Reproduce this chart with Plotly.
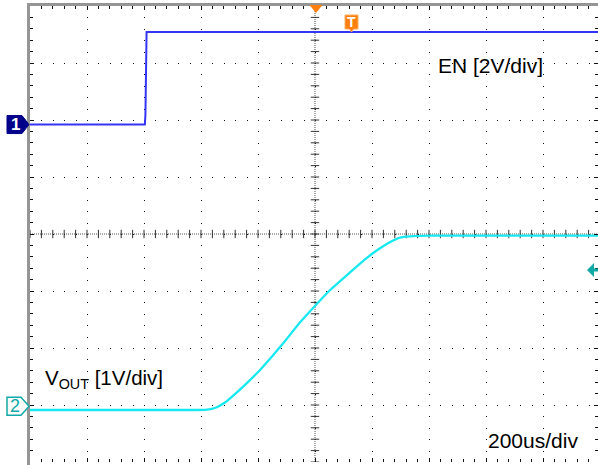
import plotly.graph_objects as go

# ---- scope settings ----
TIME_PER_DIV_US = 200.0
EN_VOLTS_PER_DIV = 2.0
VOUT_VOLTS_PER_DIV = 1.0
EN_OFFSET_DIV = 1.92      # channel 1 ground level, divisions above centre
VOUT_OFFSET_DIV = -3.02   # channel 2 ground level, divisions above centre

# ---- captured waveforms ----
en_time_us = [-1000, -597, -595, -593, -591, 993]
en_volts = [0.0, 0.0, 0.35, 3.0, 3.25, 3.25]

vout_time_us = [-1000, -420, -386, -351, -316, -281, -239, -193, -151, -105,
                -56, 3, 53, 112, 158, 204, 246, 274, 298, 333, 404, 993]
vout_volts = [-0.068, -0.068, -0.066, -0.033, 0.063, 0.212, 0.405, 0.633, 0.870, 1.142,
              1.449, 1.774, 2.037, 2.300, 2.502, 2.686, 2.826, 2.905, 2.958, 2.980, 2.990, 2.990]

# ---- screen text ----
en_label = "EN [2V/div]"
vout_label = "V<sub>OUT</sub> [1V/div]"
time_label = "200us/div"

# ---- screen geometry (pixels) ----
W, H = 598, 465
ML, MT, MB = 30, 6, 3
PW, PH = W - ML, H - MT - MB
DIV_PX = PH / 8.0
X_DIVS_VISIBLE = PW / DIV_PX

def px(x):
    return (x - ML) / PW

def py(y):
    return (H - MB - y) / PH

def ch_range(offset_div, volts_per_div):
    return [(-4 - offset_div) * volts_per_div, (4 - offset_div) * volts_per_div]

x_range = [-5 * TIME_PER_DIV_US, (-5 + X_DIVS_VISIBLE) * TIME_PER_DIV_US]

EN_COLOR = "rgb(52,52,245)"
VOUT_COLOR = "rgb(24,232,240)"
TRIG_COLOR = "#ff7f0e"
CH2_MARK = "#11a8a8"
FRAME = "#959595"

fig = go.Figure()

# centre cross tick marks
minor_t = [x_range[0] + i * TIME_PER_DIV_US / 5 for i in range(int(X_DIVS_VISIBLE * 5) + 1)]
minor_d = [-4 + i * 0.2 for i in range(41)]
fig.add_trace(go.Scatter(x=minor_t, y=[0] * len(minor_t), mode="markers",
                         marker=dict(symbol="line-ns", size=6, line=dict(width=1, color="#333")),
                         hoverinfo="skip", showlegend=False))
fig.add_trace(go.Scatter(x=[0] * len(minor_d), y=minor_d, mode="markers",
                         marker=dict(symbol="line-ew", size=6, line=dict(width=1, color="#333")),
                         hoverinfo="skip", showlegend=False))

fig.add_trace(go.Scatter(x=en_time_us, y=en_volts, yaxis="y2", mode="lines",
                         line=dict(color=EN_COLOR, width=2), showlegend=False))
fig.add_trace(go.Scatter(x=vout_time_us, y=vout_volts, yaxis="y3", mode="lines",
                         line=dict(color=VOUT_COLOR, width=2.3, shape="spline", smoothing=0.4),
                         showlegend=False))

grid_dash = "1px,%.2fpx" % (DIV_PX / 5 - 1)
common = dict(showticklabels=False, ticks="inside", ticklen=4, tickcolor="#111",
              tickwidth=1, showgrid=True, gridcolor="#111", gridwidth=1,
              griddash=grid_dash, showline=False, mirror="ticks",
              zeroline=False, fixedrange=True,
              minor=dict(ticks="inside", ticklen=3, tickcolor="#111", showgrid=False))

fig.update_layout(
    width=W, height=H,
    margin=dict(l=ML, r=W - ML - PW, t=MT, b=MB),
    paper_bgcolor="white", plot_bgcolor="white",
    xaxis=dict(range=x_range, dtick=TIME_PER_DIV_US, tick0=0, **common),
    yaxis=dict(range=[-4, 4], dtick=1, tick0=0, **common),
    yaxis2=dict(range=ch_range(EN_OFFSET_DIV, EN_VOLTS_PER_DIV), overlaying="y",
                visible=False, fixedrange=True),
    yaxis3=dict(range=ch_range(VOUT_OFFSET_DIV, VOUT_VOLTS_PER_DIV), overlaying="y",
                visible=False, fixedrange=True),
    font=dict(family="Liberation Sans, Arial, sans-serif", color="black"),
    showlegend=False,
)
fig.update_xaxes(minor=dict(dtick=TIME_PER_DIV_US / 5))
fig.update_layout(yaxis_minor_dtick=0.2)

# frame bands (left and top)
fig.add_shape(type="rect", xref="paper", yref="paper", x0=px(27), x1=px(30), y0=py(H), y1=py(3),
              fillcolor=FRAME, line=dict(width=0))
fig.add_shape(type="rect", xref="paper", yref="paper", x0=px(27), x1=px(W), y0=py(6), y1=py(3),
              fillcolor=FRAME, line=dict(width=0))

# dense centre lines
fig.add_shape(type="line", xref="x", yref="paper", x0=0, x1=0, y0=0, y1=1,
              line=dict(color="#555", width=1, dash="1px,1px"), layer="below")
fig.add_shape(type="line", xref="paper", yref="y", x0=0, x1=1, y0=0, y1=0,
              line=dict(color="#555", width=1, dash="1px,1px"), layer="below")

# channel ground markers
def ch_marker_path(ground_div, x_box_end):
    h = 9 / DIV_PX
    x0, x1, x2 = px(7), px(x_box_end), px(29)
    return (f"M{x0},{ground_div + h} L{x1},{ground_div + h} L{x2},{ground_div} "
            f"L{x1},{ground_div - h} L{x0},{ground_div - h} Z")

def badge_text(x, y, yref, text, color, size):
    fig.add_annotation(x=x, y=y, xref="paper", yref=yref, text=text, showarrow=False,
                       xanchor="center", yanchor="middle", borderpad=0,
                       font=dict(color=color, size=size))

fig.add_shape(type="path", xref="paper", yref="y", path=ch_marker_path(EN_OFFSET_DIV, 22),
              fillcolor="#00008b", line=dict(color="#00008b", width=1))
badge_text(px(15), EN_OFFSET_DIV, "y", "<b>1</b>", "white", 17)
fig.add_shape(type="path", xref="paper", yref="y", path=ch_marker_path(VOUT_OFFSET_DIV, 21),
              fillcolor="white", line=dict(color=CH2_MARK, width=1.5))
badge_text(px(14.5), VOUT_OFFSET_DIV, "y", "2", CH2_MARK, 18)

# trigger position marker
fig.add_shape(type="path", xref="paper", yref="paper",
              path=f"M{px(309.5)},{py(5)} L{px(322.5)},{py(5)} L{px(316)},{py(13)} Z",
              fillcolor=TRIG_COLOR, line=dict(width=0))
# trigger level marker
fig.add_shape(type="path", xref="paper", yref="paper",
              path=(f"M{px(345)},{py(15)} L{px(358)},{py(15)} L{px(358)},{py(29)} "
                    f"L{px(353.5)},{py(29)} L{px(351.5)},{py(32)} L{px(349.5)},{py(29)} "
                    f"L{px(345)},{py(29)} Z"),
              fillcolor=TRIG_COLOR, line=dict(color="#ffb060", width=1))
badge_text(px(351.5), py(22), "paper", "<b>T</b>", "white", 14)
# channel 2 level arrow at right edge
fig.add_shape(type="path", xref="paper", yref="paper",
              path=(f"M{px(587)},{py(270)} L{px(594)},{py(263)} L{px(594)},{py(268.5)} "
                    f"L{px(598)},{py(268.5)} L{px(598)},{py(271.5)} L{px(594)},{py(271.5)} "
                    f"L{px(594)},{py(277)} Z"),
              fillcolor=CH2_MARK, line=dict(width=0))

# labels
fig.add_annotation(x=px(436), y=py(65.5), xref="paper", yref="paper", text=en_label,
                   xanchor="left", yanchor="middle", showarrow=False, font=dict(size=21))
fig.add_annotation(x=px(486), y=py(440), xref="paper", yref="paper", text=time_label,
                   xanchor="left", yanchor="middle", showarrow=False, font=dict(size=21))
fig.add_annotation(x=px(43), y=py(379), xref="paper", yref="paper", text=vout_label,
                   xanchor="left", yanchor="middle", showarrow=False, font=dict(size=20.5))

fig.write_html("out.html")
